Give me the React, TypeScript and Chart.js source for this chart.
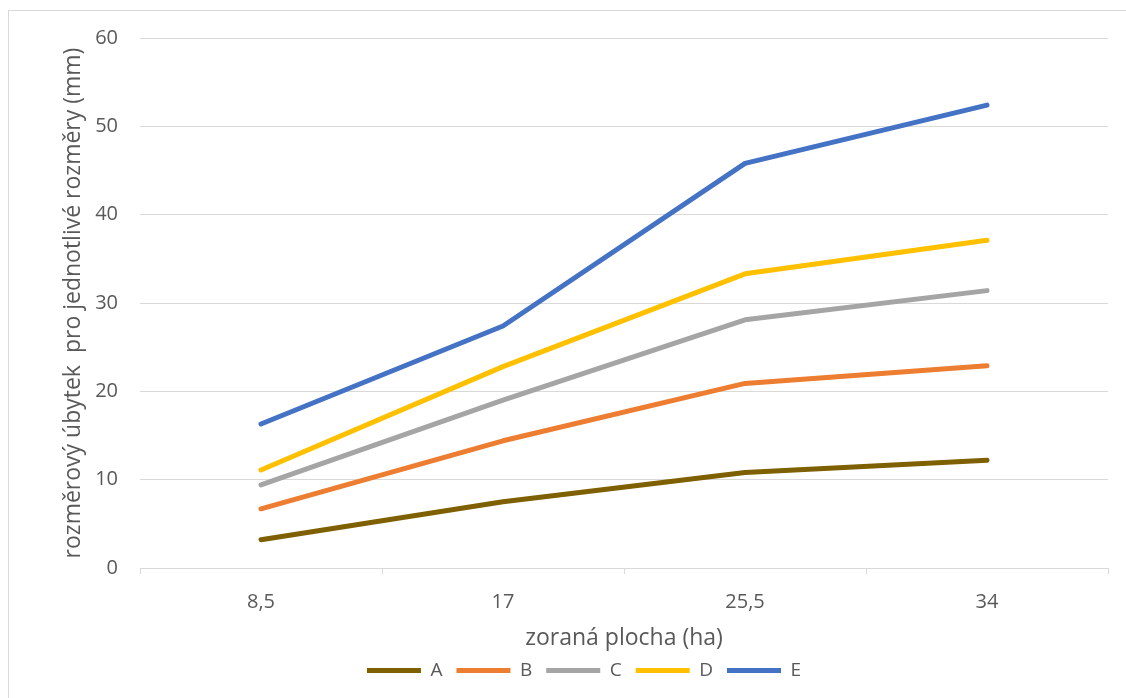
import React, { useEffect, useRef } from "react";
import { Chart, registerables } from "chart.js";

Chart.register(...registerables);

// Plowed area categories (ha)
const categories = ["8,5", "17", "25,5", "34"];

// Size loss per dimension class (mm)
const seriesA = [3.2, 7.5, 10.8, 12.2];
const seriesB = [6.7, 14.4, 20.9, 22.9];
const seriesC = [9.4, 19.0, 28.1, 31.4];
const seriesD = [11.1, 22.8, 33.3, 37.1];
const seriesE = [16.3, 27.4, 45.8, 52.4];

const seriesNames = ["A", "B", "C", "D", "E"];
const seriesValues = [seriesA, seriesB, seriesC, seriesD, seriesE];
const seriesColors = ["#7f6000", "#ed7d31", "#a5a5a5", "#ffc000", "#4472c4"];

const yTitle = "rozměrový úbytek  pro jednotlivé rozměry (mm)";
const xTitle = "zoraná plocha (ha)";

const FONT = '"Open Sans", sans-serif';
const TEXT = "#595959";
const GRID = "#d9d9d9";

export default function App() {
  const canvasRef = useRef<HTMLCanvasElement | null>(null);

  useEffect(() => {
    if (!canvasRef.current) return;
    const chart = new Chart(canvasRef.current, {
      type: "line",
      data: {
        labels: categories,
        datasets: seriesNames.map((name, i) => ({
          label: name,
          data: seriesValues[i],
          borderColor: seriesColors[i],
          backgroundColor: seriesColors[i],
          borderWidth: 5,
          borderCapStyle: "round" as const,
          borderJoinStyle: "round" as const,
          pointRadius: 0,
          pointHoverRadius: 0,
          tension: 0,
          fill: false,
        })),
      },
      options: {
        responsive: false,
        animation: false,
        layout: { padding: { left: 60, right: 18, top: 38, bottom: 8 } },
        plugins: {
          tooltip: { enabled: false },
          legend: {
            position: "bottom",
            labels: {
              usePointStyle: true,
              pointStyle: "line",
              pointStyleWidth: 54,
              padding: 14,
              color: TEXT,
              font: { family: FONT, size: 19 },
            },
          },
        },
        scales: {
          x: {
            offset: true,
            grid: {
              offset: true,
              drawOnChartArea: false,
              drawTicks: true,
              tickLength: 6,
              color: GRID,
            },
            border: { display: true, color: GRID },
            ticks: {
              color: TEXT,
              padding: 16,
              font: { family: FONT, size: 20 },
            },
            title: {
              display: true,
              text: xTitle,
              color: TEXT,
              padding: { top: 0, bottom: -5 },
              font: { family: FONT, size: 23 },
            },
            afterFit: (scale: any) => {
              scale.height = 79;
            },
          },
          y: {
            min: 0,
            max: 60,
            ticks: {
              stepSize: 10,
              color: TEXT,
              padding: 22,
              font: { family: FONT, size: 20 },
            },
            grid: { color: GRID, drawTicks: false, lineWidth: 1 },
            border: { display: false },
            title: {
              display: true,
              text: yTitle,
              color: TEXT,
              padding: 0,
              font: { family: FONT, size: 23 },
            },
            afterFit: (scale: any) => {
              scale.width = 80;
            },
          },
        },
      },
    });
    return () => chart.destroy();
  }, []);

  return (
    <div style={{ position: "fixed", left: 0, top: 0, width: 1126, height: 698, background: "#fff", overflow: "hidden" }}>
      <div
        style={{
          position: "absolute",
          left: 8,
          top: 10,
          width: 1140,
          height: 720,
          border: `1px solid ${GRID}`,
          boxSizing: "border-box",
        }}
      />
      <canvas ref={canvasRef} width={1126} height={698} style={{ position: "absolute", left: 0, top: 0 }} />
    </div>
  );
}
